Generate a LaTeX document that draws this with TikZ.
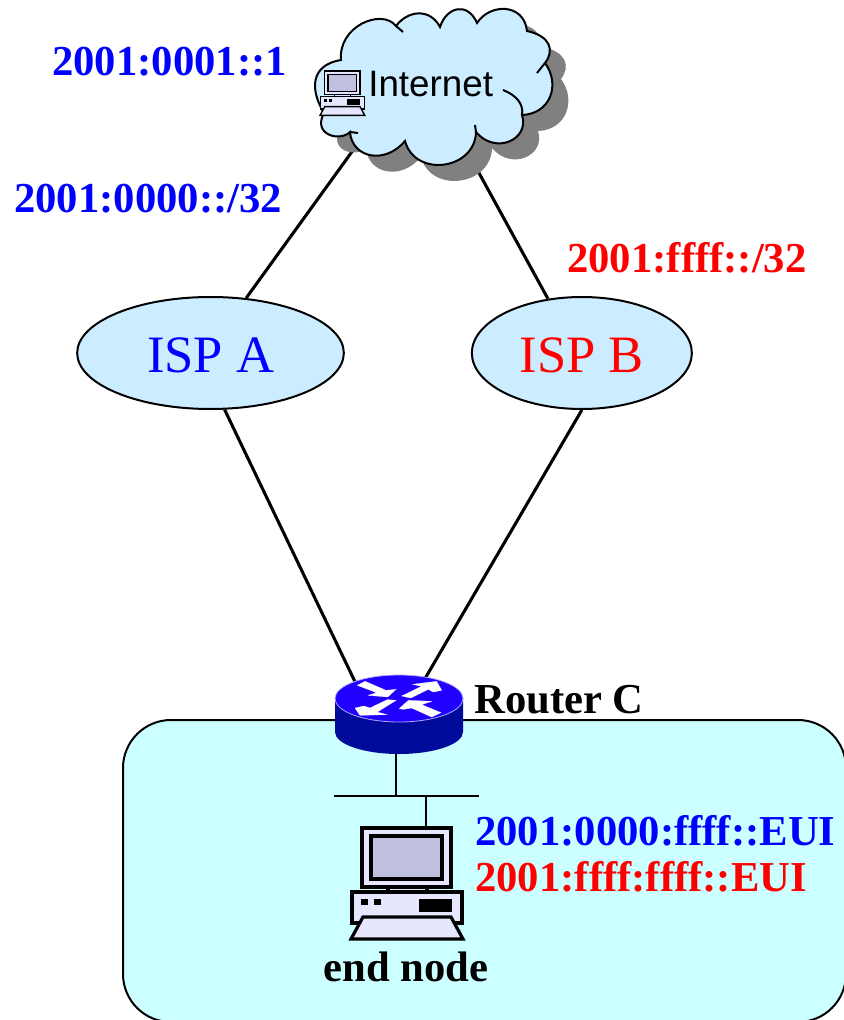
\documentclass[tikz,border=0pt]{standalone}
\usepackage{xcolor}
\usepackage{fontspec}
\setmainfont{Liberation Serif}
\newfontfamily\cloudfont{Liberation Sans}
\usetikzlibrary{positioning,shapes.geometric}
\definecolor{ispfill}{RGB}{204,236,255}
\definecolor{sitefill}{RGB}{204,255,255}
\definecolor{pcbody}{RGB}{230,230,255}
\definecolor{pcscreen}{RGB}{192,192,224}
\definecolor{routertop}{RGB}{34,0,255}
\definecolor{routerside}{RGB}{0,10,155}
\definecolor{routeredge}{RGB}{170,170,255}
\newcommand{\cloudoutline}{(341,60) .. controls (338,26) and (382,8) .. (396,26)
    .. controls (408,10) and (430,8) .. (440,27)
    .. controls (447,6) and (468,2) .. (477,23)
    .. controls (490,3) and (524,3) .. (527,31)
    .. controls (550,36) and (555,50) .. (545,63)
    .. controls (561,85) and (550,114) .. (522,115)
    .. controls (530,140) and (495,155) .. (476,132)
    .. controls (475,170) and (415,178) .. (405,141)
    .. controls (385,165) and (352,158) .. (350,132)
    .. controls (340,142) and (312,135) .. (324,113)
    .. controls (310,90) and (310,65) .. (341,60) -- cycle}
\tikzset{
    isp/.style={ellipse,draw=black,line width=1.5pt,fill=ispfill,minimum height=84pt,inner sep=0pt,text height=29pt,text depth=0pt,font=\fontsize{39.4}{44}\selectfont},
    addr/.style={inner sep=0pt,anchor=base west,font=\fontsize{32}{36}\selectfont\bfseries},
    wire/.style={line width=2.3pt},
    routerarrow/.style={fill=white,draw=white,line width=0.2pt},
    pc/.pic={
        \draw[fill=pcbody] (37,59) rectangle (76,66);
        \draw[fill=pcbody] (11,0) rectangle (100,59);
        \draw[fill=pcscreen] (20,8) rectangle (91,51);
        \draw[fill=pcbody] (1,64) rectangle (111,95);
        \fill (10,71) rectangle (17,77);
        \fill (23,71) rectangle (30,77);
        \fill (68,71) rectangle (101,84);
        \draw[fill=pcbody] (12,89) -- (100,89) -- (112,111) -- (0,111) -- cycle;
    }
}
\begin{document}
\begin{tikzpicture}[x=0.75pt,y=-0.75pt]
    \useasboundingbox (0,0) rectangle (843,1020);

    % site
    \draw[line width=1.5pt,fill=sitefill,rounded corners=36pt] (123,720) rectangle (846,1022);

    % providers
    \node[isp,minimum width=200pt,text=blue] (ispa) at (210.5,353) {ISP A};
    \node[isp,minimum width=165pt,text=red,right=94.5pt of ispa] (ispb) {ISP B};

    \coordinate (cloudl) at (372,124);
    \coordinate (cloudr) at (462,142);
    \coordinate (routerl) at (358,688);
    \coordinate (routerr) at (423,682);
    \draw[wire] (ispa.57) -- (cloudl);
    \draw[wire] (ispb.122) -- (cloudr);
    \draw[wire] (ispa.284) -- (routerl);
    \draw[wire] (ispb.south) -- (routerr);

    % cloud
    \fill[gray,shift={(16,16)}] \cloudoutline;
    \draw[line width=1.5pt,fill=ispfill] \cloudoutline;
    \draw[line width=1.5pt] (396,26) -- (403,32);
    \draw[line width=1.5pt] (545,63) -- (537,73);
    \draw[line width=1.5pt] (503,90) .. controls (516,95) and (524,104) .. (522,115);
    \draw[line width=1.5pt] (476,132) -- (475,125);
    \draw[line width=1.5pt] (350,132) -- (358,133);
    \node[inner sep=0pt,anchor=base west,font=\cloudfont\fontsize{27.6}{32}\selectfont] (internet) at (368,97) {Internet};
    \pic[line width=1pt,scale=0.4] at (320,71) {pc};

    % router
    \node[minimum width=96pt,minimum height=59pt,inner sep=0pt] (router) at (399,714.5) {};
    \fill[routerside] (335,698) -- (335,732) arc[start angle=180,end angle=360,x radius=64,y radius=-22] -- (463,698) -- cycle;
    \draw[routeredge,line width=0.6pt,fill=routertop] (399,698.5) ellipse[x radius=64,y radius=23.5];
    \begin{scope}[shift={(340,672)},x=0.25pt,y=-0.25pt]
        \draw[routerarrow] (52,40) -- (75,28) -- (138,55) -- (168,52) -- (143,75) -- (85,70) -- (110,62) -- cycle;
        \draw[routerarrow] (185,72) -- (212,78) -- (265,52) -- (280,60) -- (305,55) -- (290,28) -- (218,37) -- (245,43) -- cycle;
        \draw[routerarrow] (168,85) -- (142,83) -- (90,108) -- (72,102) -- (45,108) -- (60,130) -- (140,128) -- (112,120) -- cycle;
        \draw[routerarrow] (303,122) -- (275,135) -- (215,108) -- (190,112) -- (178,110) -- (205,85) -- (275,88) -- (245,98) -- cycle;
    \end{scope}

    % LAN
    \coordinate (busl) at (334,796);
    \coordinate (busr) at (479,796);
    \coordinate (busa) at (396,796);
    \coordinate (busb) at (426,796);
    \coordinate (pctop) at (426,828);
    \draw[line width=1.4pt] (busl) -- (busr);
    \draw[line width=1.4pt] (router.south -| busa) -- (busa);
    \draw[line width=1.4pt] (busb) -- (pctop);
    \pic[line width=2.4pt] at (351,828) {pc};

    % labels
    \node[addr,text=blue] (hostaddr) at (52,76) {2001:0001::1};
    \node[addr,text=blue] (prefixa) at (14,212) {2001:0000::/32};
    \node[addr,text=red] (prefixb) at (567,272) {2001:ffff::/32};
    \node[addr] (routerlabel) at (474,713) {Router C};
    \node[addr,text=blue] (eui1) at (475,845) {2001:0000:ffff::EUI};
    \node[addr,text=red] (eui2) at (475,891) {2001:ffff:ffff::EUI};
    \node[addr,anchor=base] (endnode) at (406,981) {end node};
\end{tikzpicture}
\end{document}
